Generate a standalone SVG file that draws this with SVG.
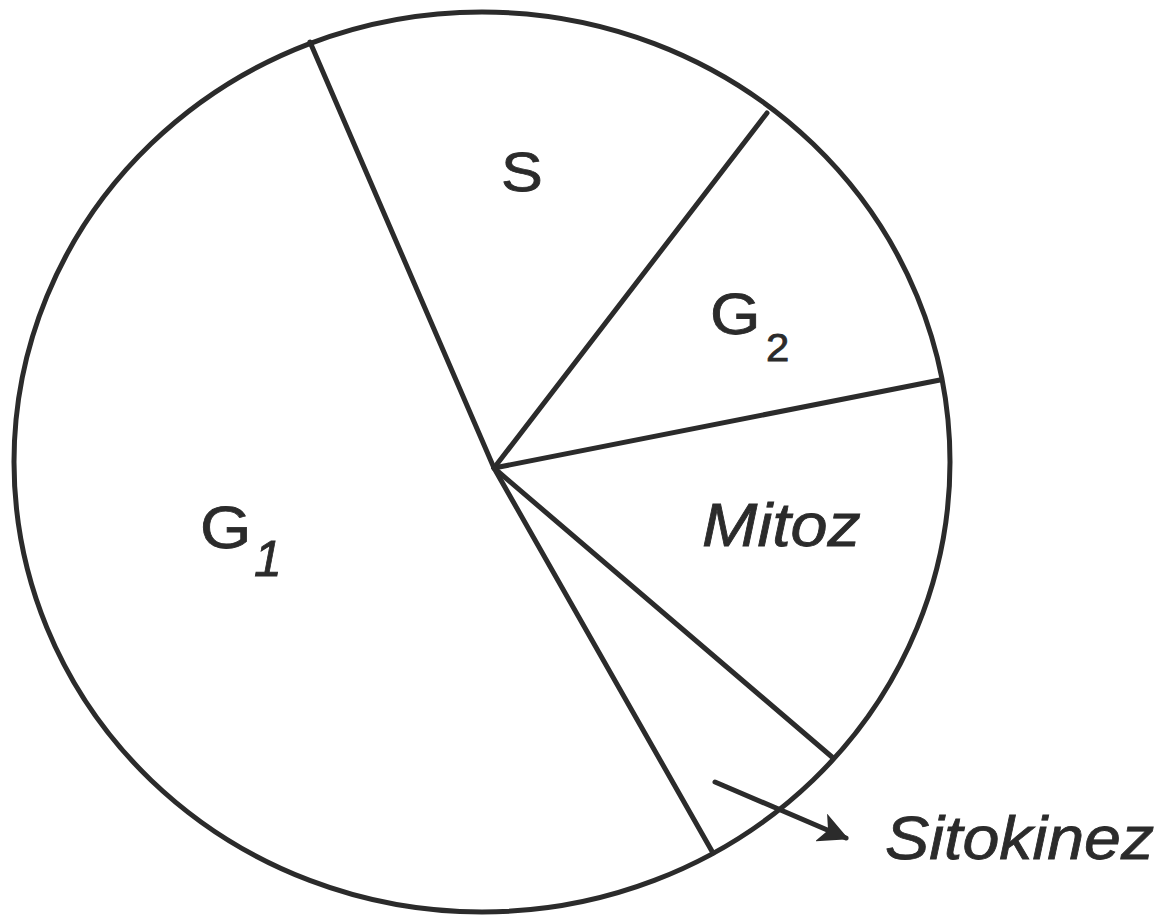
<svg xmlns="http://www.w3.org/2000/svg" width="1169" height="922" viewBox="0 0 1169 922">
<style>
.ln{stroke:#2b2b2b;stroke-width:5;fill:none;stroke-linecap:round}
.t{font-family:"Liberation Sans",Arial,sans-serif;fill:#2b2b2b;stroke:#2b2b2b;stroke-width:0.8}
.i{font-style:italic}
</style>
<defs>
<marker id="ah" viewBox="0 0 10 10" refX="9" refY="5" markerWidth="6" markerHeight="6" orient="auto" markerUnits="strokeWidth">
<path d="M0,0 L10,5 L0,10 L2.5,5 Z" fill="#2b2b2b"/>
</marker>
</defs>
<rect width="1169" height="922" fill="#ffffff"/>
<g id="circle">
<ellipse class="ln" cx="482" cy="462" rx="468" ry="450"/>
</g>
<g id="connectors">
<line class="ln" x1="494" y1="468" x2="310" y2="42"/>
<line class="ln" x1="494" y1="468" x2="767" y2="113"/>
<line class="ln" x1="494" y1="468" x2="940" y2="380"/>
<line class="ln" x1="494" y1="468" x2="832" y2="757"/>
<line class="ln" x1="494" y1="468" x2="713" y2="853"/>
<line class="ln" x1="715" y1="782" x2="846" y2="838" stroke-width="4" marker-end="url(#ah)"/>
</g>
<g id="S"><text class="t" x="501" y="191" font-size="56" transform="translate(501 0) scale(1.12 1) translate(-501 0)">S</text></g>
<g id="G2"><text class="t" x="710" y="334" font-size="58" transform="translate(710 0) scale(1.12 1) translate(-710 0)">G</text><text class="t" x="766" y="361" font-size="38" transform="translate(766 0) scale(1.1 1) translate(-766 0)">2</text></g>
<g id="G1"><text class="t" x="200" y="548" font-size="60" transform="translate(200 0) scale(1.1 1) translate(-200 0)">G</text><text class="t i" x="254" y="576" font-size="50">1</text></g>
<g id="Mitoz"><text class="t i" x="702" y="546" font-size="61" transform="translate(702 0) scale(1.09 1) translate(-702 0)">Mitoz</text></g>
<g id="Sitokinez"><text class="t i" x="885" y="859" font-size="62" transform="translate(885 0) scale(1.07 1) translate(-885 0)">Sitokinez</text></g>
</svg>
